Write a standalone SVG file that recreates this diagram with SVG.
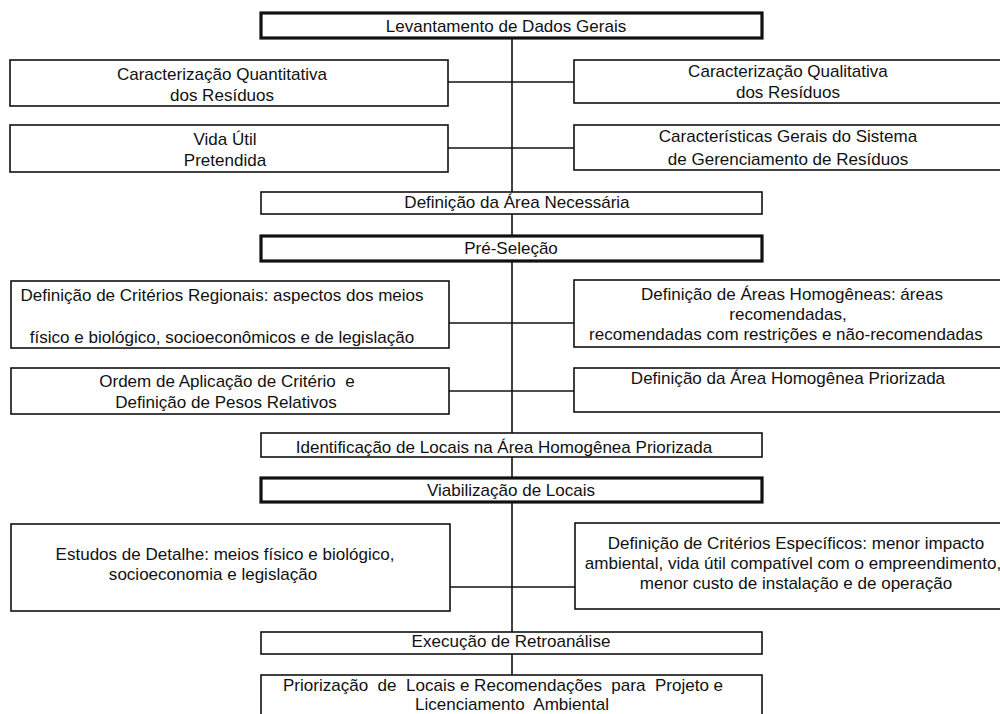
<svg xmlns="http://www.w3.org/2000/svg" width="1000" height="714" viewBox="0 0 1000 714">
<style>
.b{fill:#fff;stroke:#111;stroke-width:1.6}
.t{fill:#fff;stroke:#111;stroke-width:3.2}
.c{stroke:#111;stroke-width:1.6;fill:none}
text{font-family:"Liberation Sans",Arial,sans-serif;font-size:16px;fill:#111;text-anchor:middle;white-space:pre;transform-box:fill-box;transform-origin:50% 50%;transform:scaleX(1.065)}
</style>
<rect width="1000" height="714" fill="#fff"/>
<g id="connectors">
<line class="c" x1="512" y1="38" x2="512" y2="676"/>
<line class="c" x1="448" y1="82" x2="574" y2="82"/>
<line class="c" x1="448" y1="148" x2="574" y2="148"/>
<line class="c" x1="449" y1="323" x2="574" y2="323"/>
<line class="c" x1="449" y1="391" x2="574" y2="391"/>
<line class="c" x1="450" y1="587" x2="575" y2="587"/>
</g>
<g id="n1"><rect class="t" x="261" y="13" width="501" height="25"/><text x="506" y="32">Levantamento de Dados Gerais</text></g>
<g id="n2"><rect class="b" x="10" y="60" width="438" height="46"/><text x="222" y="80">Caracterização Quantitativa</text><text x="222" y="101">dos Resíduos</text></g>
<g id="n3"><rect class="b" x="574" y="60" width="440" height="43"/><text x="788" y="77">Caracterização Qualitativa</text><text x="788" y="98">dos Resíduos</text></g>
<g id="n4"><rect class="b" x="10" y="125" width="438" height="47"/><text x="225" y="145">Vida Útil</text><text x="225" y="166">Pretendida</text></g>
<g id="n5"><rect class="b" x="574" y="125" width="440" height="45"/><text x="788" y="142">Características Gerais do Sistema</text><text x="788" y="165">de Gerenciamento de Resíduos</text></g>
<g id="n6"><rect class="b" x="261" y="192" width="501" height="22"/><text x="517" y="208">Definição da Área Necessária</text></g>
<g id="n7"><rect class="t" x="261" y="236" width="501" height="25"/><text x="511" y="254">Pré-Seleção</text></g>
<g id="n8"><rect class="b" x="11" y="281" width="438" height="67"/><text x="222" y="301">Definição de Critérios Regionais: aspectos dos meios</text><text x="222" y="343">físico e biológico, socioeconômicos e de legislação</text></g>
<g id="n9"><rect class="b" x="574" y="280" width="440" height="67"/><text x="792" y="300">Definição de Áreas Homogêneas: áreas</text><text x="788" y="320">recomendadas,</text><text x="786" y="340">recomendadas com restrições e não-recomendadas</text></g>
<g id="n10"><rect class="b" x="11" y="368" width="438" height="46"/><text x="227" y="387">Ordem de Aplicação de Critério  e</text><text x="226" y="408">Definição de Pesos Relativos</text></g>
<g id="n11"><rect class="b" x="574" y="368" width="440" height="44"/><text x="788" y="384">Definição da Área Homogênea Priorizada</text></g>
<g id="n12"><rect class="b" x="261" y="433" width="501" height="24"/><text x="504" y="453">Identificação de Locais na Área Homogênea Priorizada</text></g>
<g id="n13"><rect class="t" x="261" y="478" width="501" height="24"/><text x="511" y="496">Viabilização de Locais</text></g>
<g id="n14"><rect class="b" x="11" y="524" width="439" height="87"/><text x="225" y="560">Estudos de Detalhe: meios físico e biológico,</text><text x="213" y="580">socioeconomia e legislação</text></g>
<g id="n15"><rect class="b" x="575" y="523" width="440" height="86"/><text x="796" y="549">Definição de Critérios Específicos: menor impacto</text><text x="793" y="569">ambiental, vida útil compatível com o empreendimento,</text><text x="796" y="589">menor custo de instalação e de operação</text></g>
<g id="n16"><rect class="b" x="261" y="632" width="501" height="22"/><text x="511" y="647">Execução de Retroanálise</text></g>
<g id="n17"><rect class="b" x="261" y="675" width="501" height="50"/><text x="503" y="691">Priorização  de  Locais e Recomendações  para  Projeto e</text><text x="512" y="710">Licenciamento  Ambiental</text></g>
</svg>
